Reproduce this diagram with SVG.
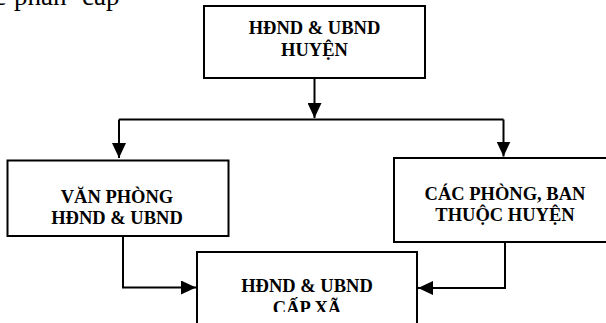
<svg xmlns="http://www.w3.org/2000/svg" width="606" height="323" viewBox="0 0 606 323">
<style>
.box{fill:#fff;stroke:#000;stroke-width:2}
.t{font-family:"Liberation Serif","Times New Roman",serif;font-weight:bold;font-size:18.5px;text-anchor:middle;fill:#000}
.c{fill:none;stroke:#000;stroke-width:2}
.top{font-family:"Liberation Serif","Times New Roman",serif;font-size:27px;fill:#000}
</style>
<defs>
<marker id="ah" markerWidth="15" markerHeight="14" refX="15" refY="7" orient="auto" markerUnits="userSpaceOnUse">
<path d="M0,0 L15,7 L0,14 Z" fill="#000"/>
</marker>
<clipPath id="clipBot"><rect x="197" y="252" width="220" height="60"/></clipPath>
</defs>
<rect width="606" height="323" fill="#fff"/>
<text class="top" y="5"><tspan x="-6">c</tspan><tspan x="14">phân</tspan><tspan x="82">cấp</tspan></text>
<g id="connectors">
<path class="c" d="M314.5,78 V118" marker-end="url(#ah)"/>
<path class="c" d="M119,119.5 H503.5"/>
<path class="c" d="M119,119.5 V158" marker-end="url(#ah)"/>
<path class="c" d="M503.5,119.5 V156.5" marker-end="url(#ah)"/>
<path class="c" d="M123,236 V287.5 H196" marker-end="url(#ah)"/>
<path class="c" d="M505,242 V288 H418" marker-end="url(#ah)"/>
</g>
<g id="n_huyen">
<rect class="box" x="204" y="6" width="221" height="72"/>
<text class="t" x="314.5" y="34">HĐND &amp; UBND</text>
<text class="t" x="314.5" y="56">HUYỆN</text>
</g>
<g id="n_vanphong">
<rect class="box" x="7.5" y="160.5" width="221" height="75.5"/>
<text class="t" x="117" y="203">VĂN PHÒNG</text>
<text class="t" x="117" y="224">HĐND &amp; UBND</text>
</g>
<g id="n_cacphong">
<rect class="box" x="394" y="158" width="222" height="84"/>
<text class="t" x="505" y="200">CÁC PHÒNG, BAN</text>
<text class="t" x="505" y="221">THUỘC HUYỆN</text>
</g>
<g id="n_capxa">
<rect class="box" x="197" y="252" width="220" height="80"/>
<g clip-path="url(#clipBot)">
<text class="t" x="307" y="291.5">HĐND &amp; UBND</text>
<text class="t" x="307" y="314">CẤP XÃ</text>
</g>
</g>
</svg>
